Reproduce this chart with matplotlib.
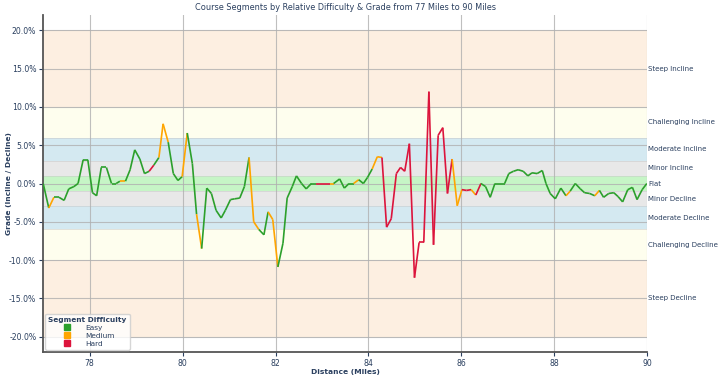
import numpy as np
import matplotlib
matplotlib.use("Agg")
import matplotlib.pyplot as plt
from matplotlib.collections import LineCollection
from matplotlib.lines import Line2D

# distance (miles), grade (%), difficulty of the segment starting at that point
distance = [77.00, 77.12, 77.23, 77.34, 77.45, 77.55, 77.66, 77.75, 77.86, 77.96,
            78.06, 78.15, 78.25, 78.36, 78.47, 78.57, 78.65, 78.77, 78.87, 78.97,
            79.08, 79.18, 79.28, 79.38, 79.49, 79.58, 79.69, 79.80, 79.90, 79.99,
            80.10, 80.21, 80.30, 80.41, 80.52, 80.62, 80.72, 80.83, 80.92, 81.03,
            81.12, 81.23, 81.33, 81.43, 81.53, 81.64, 81.75, 81.84, 81.94, 82.05,
            82.16, 82.25, 82.36, 82.45, 82.56, 82.66, 82.77, 82.88, 82.98, 83.07,
            83.17, 83.25, 83.38, 83.48, 83.58, 83.68, 83.79, 83.89, 83.98, 84.08,
            84.19, 84.29, 84.39, 84.49, 84.60, 84.69, 84.78, 84.88, 84.99, 85.09,
            85.19, 85.30, 85.40, 85.50, 85.60, 85.70, 85.80, 85.91, 86.01, 86.11,
            86.21, 86.31, 86.42, 86.52, 86.62, 86.72, 86.82, 86.93, 87.02, 87.12,
            87.22, 87.33, 87.43, 87.52, 87.63, 87.74, 87.82, 87.91, 88.02, 88.14,
            88.25, 88.34, 88.45, 88.56, 88.65, 88.76, 88.87, 88.97, 89.06, 89.17,
            89.28, 89.37, 89.47, 89.58, 89.68, 89.78, 89.89, 89.99]
grade = [0.0, -3.2, -1.8, -1.8, -2.2, -0.7, -0.4, 0.0, 3.1, 3.1,
         -1.2, -1.6, 2.1, 2.1, 0.0, 0.0, 0.3, 0.3, 1.8, 4.4,
         3.2, 1.3, 1.6, 2.4, 3.4, 7.8, 5.4, 1.3, 0.4, 0.9,
         6.6, 2.6, -4.0, -8.5, -0.6, -1.3, -3.5, -4.5, -3.5, -2.1,
         -2.0, -1.9, -0.4, 3.4, -5.0, -6.0, -6.7, -3.7, -4.7, -10.9,
         -7.8, -1.9, -0.4, 1.0, 0.0, -0.7, 0.0, 0.0, 0.0, 0.0,
         0.0, 0.0, 0.6, -0.6, 0.0, 0.0, 0.5, 0.0, 0.8, 1.9,
         3.5, 3.4, -5.7, -4.6, 1.3, 2.1, 1.6, 5.2, -12.3, -7.7,
         -7.7, 12.0, -8.0, 6.3, 7.3, -1.3, 3.2, -2.9, -0.8, -0.9,
         -0.8, -1.5, 0.0, -0.4, -1.8, 0.0, 0.0, 0.0, 1.3, 1.6,
         1.8, 1.6, 1.0, 1.4, 1.3, 1.7, 0.0, -1.3, -2.0, -0.6,
         -1.6, -1.0, 0.0, -0.7, -1.2, -1.3, -1.6, -0.9, -1.8, -1.3,
         -1.2, -1.7, -2.4, -0.8, -0.5, -2.1, -0.8, 0.0]
difficulty = list("EMEEEEEEEEEEEEEEMEEEEEHEMMEEEMEEMEEEEEEEEEEMMEEMMEEEEEEEEHHHME"
                  "EEEMEEEMMHHHHHHHHHHHHHHHMMHHMHEEEEEEEEEEEEEEEEEEMEEEEEMEEEEEEE"
                  "EEEEMMEE")[:len(distance) - 1]

colors = {"E": "#2ca02c", "M": "#ffa500", "H": "#dc143c"}
names = {"E": "Easy", "M": "Medium", "H": "Hard"}

# grade bands: (low, high, colour, label)
bands = [(10, 20, "#fdefe1", "Steep Incline"),
         (6, 10, "#fefeee", "Challenging Incline"),
         (3, 6, "#d4e9f1", "Moderate Incline"),
         (1, 3, "#e8e8e8", "Minor Incline"),
         (-1, 1, "#c6f5c6", "Flat"),
         (-3, -1, "#e8e8e8", "Minor Decline"),
         (-6, -3, "#d4e9f1", "Moderate Decline"),
         (-10, -6, "#fefeee", "Challenging Decline"),
         (-20, -10, "#fdefe1", "Steep Decline")]

txt = "#2a3f5f"
fs = 5.6

fig = plt.figure(figsize=(7.2, 3.78), dpi=100)
ax = fig.add_axes([0.06, 0.069, 0.839, 0.891])

for lo, hi, c, lab in bands:
    ax.axhspan(lo, hi, color=c, zorder=0, lw=0)
    ax.text(90.02, (lo + hi) / 2, lab, fontsize=5.05, color=txt, va="center", ha="left")
for y in [-20, -10, -6, -3, -1, 1, 3, 6, 10, 20]:
    ax.axhline(y, color="#c8c8c8", lw=0.6, alpha=0.6, zorder=0.5)

pts = np.column_stack([distance, grade])
segs = np.stack([pts[:-1], pts[1:]], axis=1)
lc = LineCollection(segs, colors=[colors[d] for d in difficulty], linewidths=1.2, zorder=3)
ax.add_collection(lc)

ax.set_xlim(77, 90)
ax.set_ylim(-22, 22)
ax.set_xticks([78, 80, 82, 84, 86, 88, 90])
ax.set_yticks([-20, -15, -10, -5, 0, 5, 10, 15, 20])
ax.set_yticklabels([f"{v:.1f}%" for v in [-20, -15, -10, -5, 0, 5, 10, 15, 20]])
ax.grid(True, color="#b0b0b0", lw=0.8, alpha=0.8, zorder=1)
ax.set_axisbelow(True)
ax.tick_params(labelsize=fs, colors=txt, length=3, pad=2)
for s in ["top", "right"]:
    ax.spines[s].set_visible(False)
for s in ["left", "bottom"]:
    ax.spines[s].set_color("#555555")
    ax.spines[s].set_linewidth(1.3)

ax.set_title("Course Segments by Relative Difficulty & Grade from 77 Miles to 90 Miles",
             fontsize=5.9, color=txt, pad=4)
ax.set_xlabel("Distance (Miles)", fontsize=5.4, fontweight="bold", color=txt, labelpad=1)
ax.set_ylabel("Grade (Incline / Decline)", fontsize=5.4, fontweight="bold", color=txt)
ax.yaxis.set_label_coords(-0.051, 0.5)

handles = [Line2D([], [], marker="s", ls="", color=colors[k], markersize=5, label=names[k])
           for k in ["E", "M", "H"]]
leg = ax.legend(handles=handles, title="Segment Difficulty", loc="lower left",
                fontsize=5.3, title_fontsize=5.3, framealpha=0.8, borderaxespad=0.3,
                handletextpad=1.5, labelspacing=0.25)
leg.get_title().set_fontweight("bold")
leg.get_title().set_color(txt)
for t in leg.get_texts():
    t.set_color(txt)

fig.savefig("out.png", dpi=100)
